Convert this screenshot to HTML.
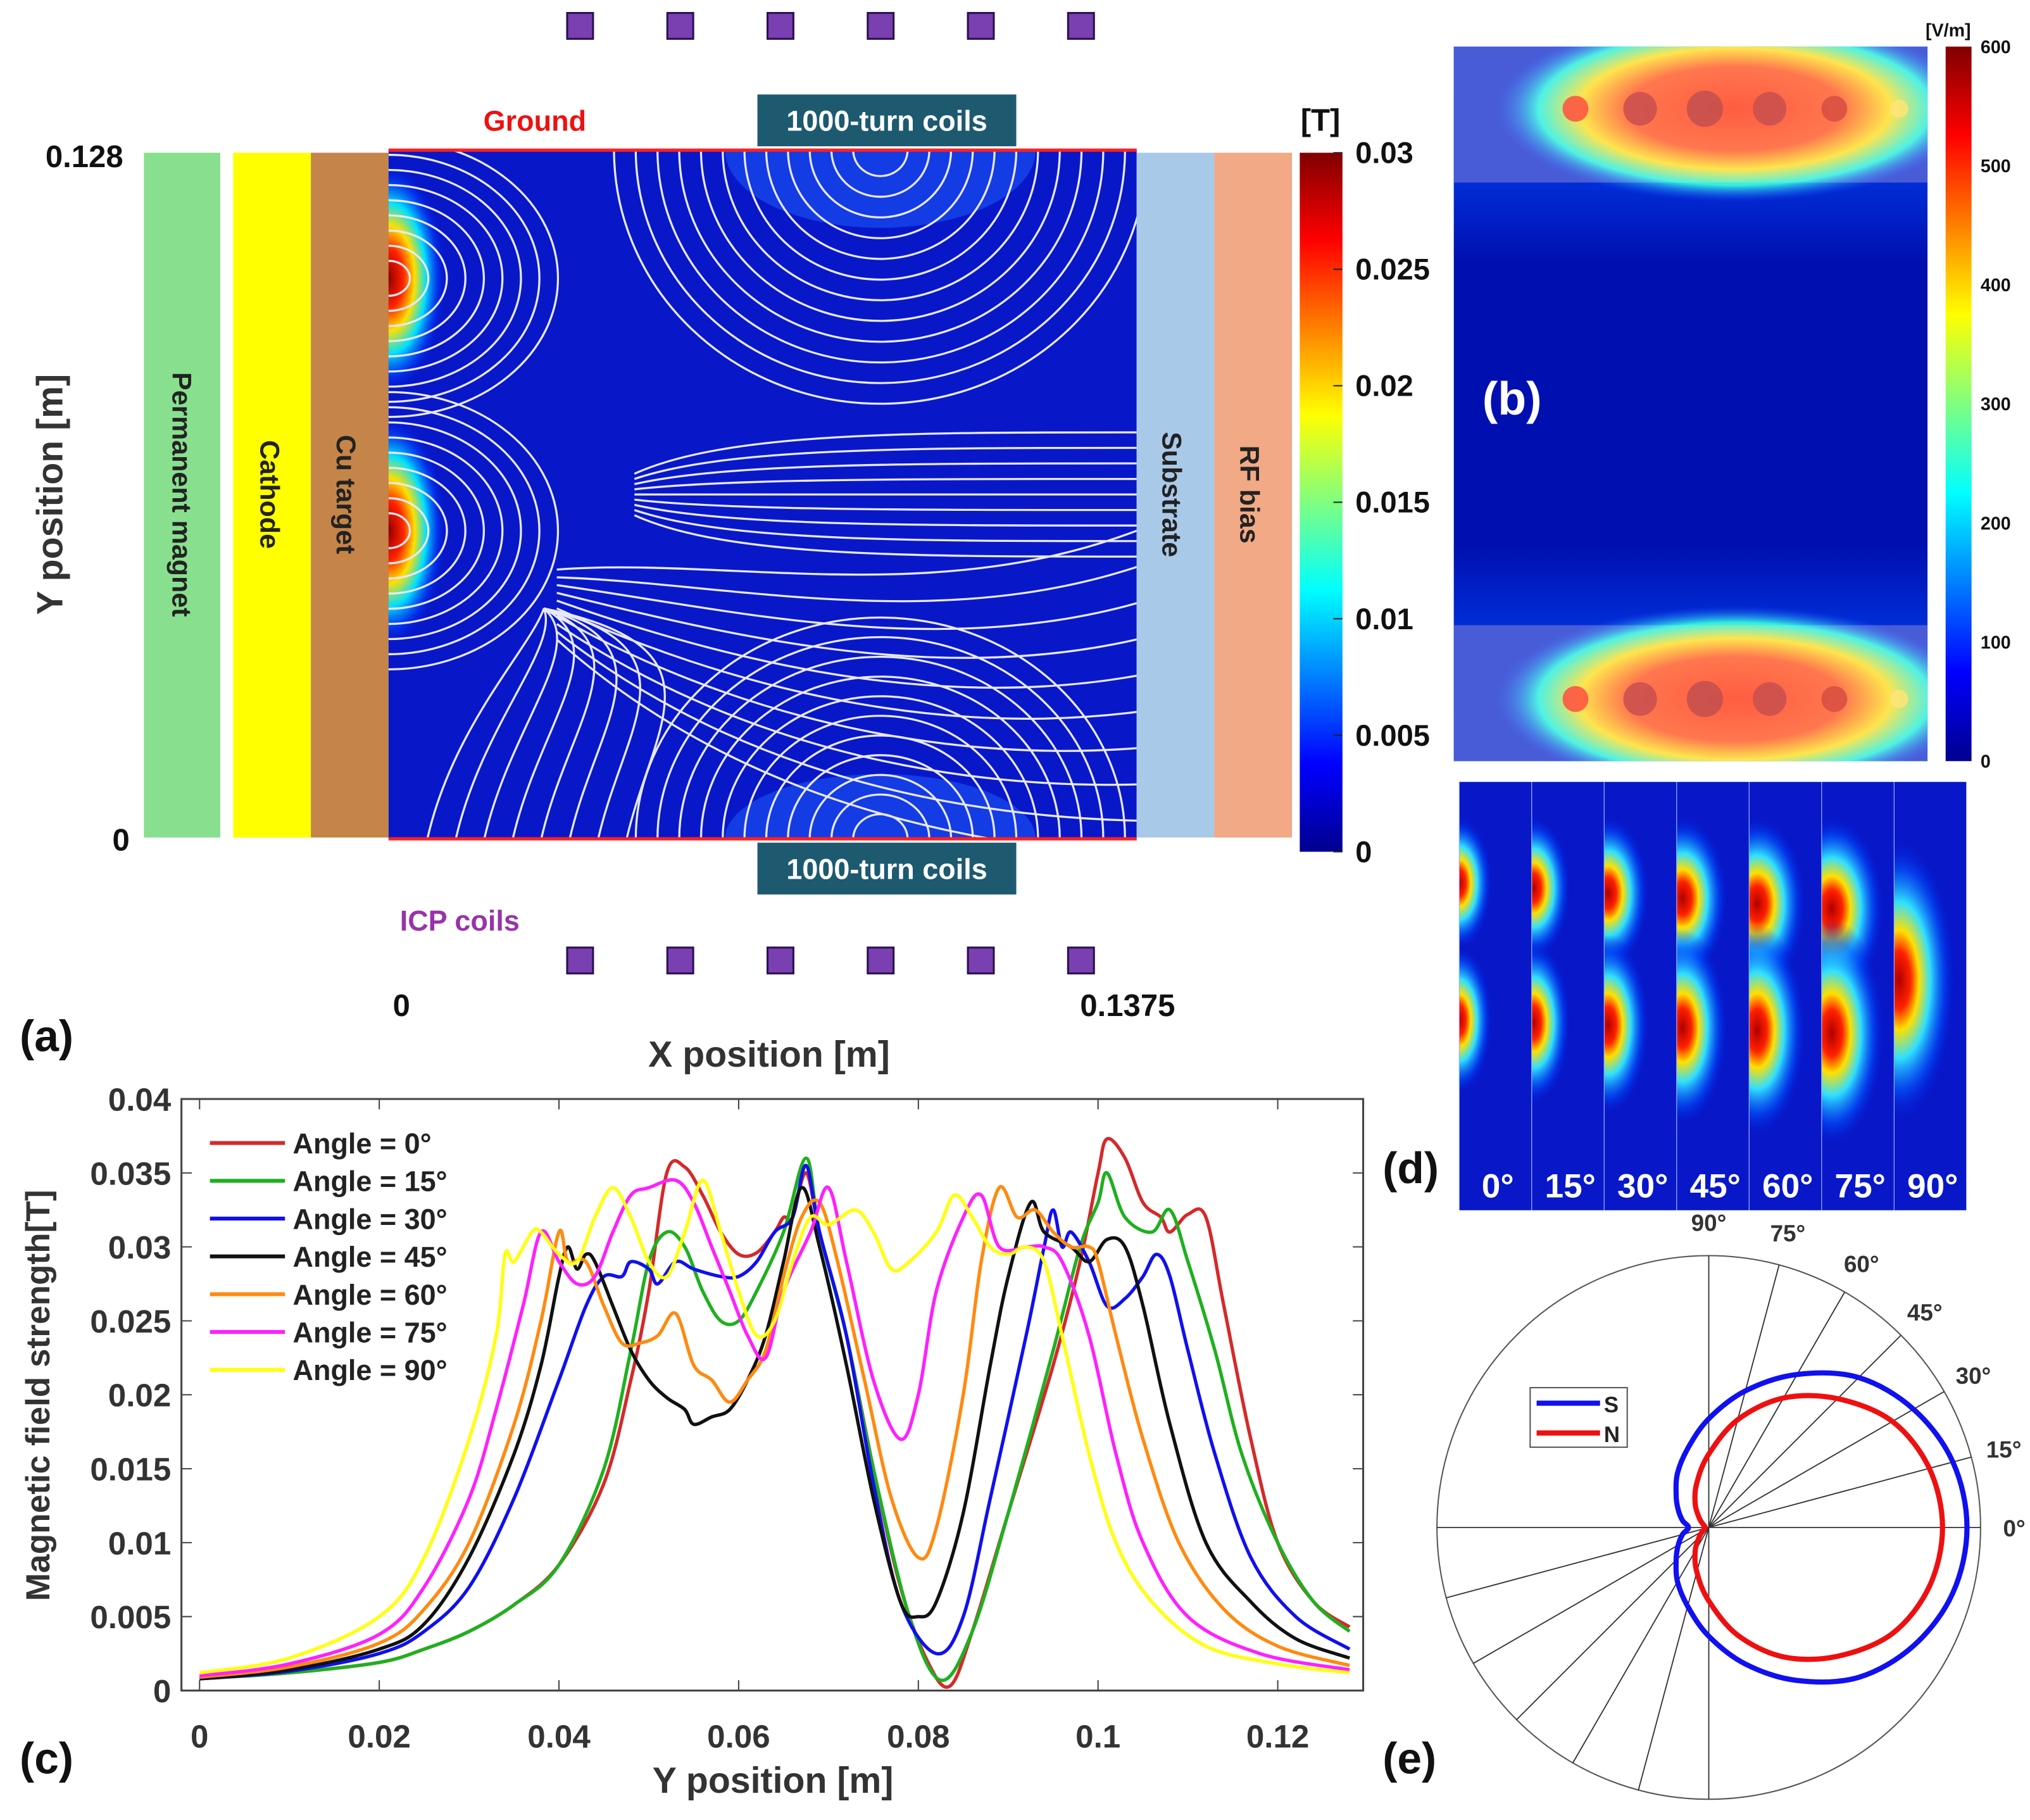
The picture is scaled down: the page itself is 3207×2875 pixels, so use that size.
<!DOCTYPE html>
<html><head><meta charset="utf-8"><style>
html,body{margin:0;padding:0;background:#fff}
svg{display:block}
text{font-family:"Liberation Sans",sans-serif;font-weight:bold}
</style></head><body>
<svg id="fig" width="3207" height="2875" viewBox="0 0 1568 1406" xmlns="http://www.w3.org/2000/svg">
<defs>
<linearGradient id="jetV" x1="0" y1="1" x2="0" y2="0">
<stop offset="0" stop-color="#00008f"/><stop offset="0.125" stop-color="#0000ff"/><stop offset="0.375" stop-color="#00ffff"/><stop offset="0.625" stop-color="#ffff00"/><stop offset="0.875" stop-color="#ff0000"/><stop offset="1" stop-color="#800000"/>
</linearGradient>
<radialGradient id="hot">
<stop offset="0" stop-color="#900000"/><stop offset="0.25" stop-color="#ff2000"/><stop offset="0.45" stop-color="#ffe000"/><stop offset="0.65" stop-color="#00e0ff"/><stop offset="0.85" stop-color="#0040ff" stop-opacity="0.6"/><stop offset="1" stop-color="#0010d0" stop-opacity="0"/>
</radialGradient>
<radialGradient id="hot2">
<stop offset="0" stop-color="#b00000"/><stop offset="0.2" stop-color="#ff2000"/><stop offset="0.35" stop-color="#ffe000"/><stop offset="0.55" stop-color="#30e0ff"/><stop offset="0.8" stop-color="#0050ff" stop-opacity="0.6"/><stop offset="1" stop-color="#0010d0" stop-opacity="0"/>
</radialGradient>
<radialGradient id="band">
<stop offset="0" stop-color="#ff4020"/><stop offset="0.45" stop-color="#ff6030"/><stop offset="0.65" stop-color="#ffe030"/><stop offset="0.82" stop-color="#30f0e0"/><stop offset="1" stop-color="#2050ff" stop-opacity="0"/>
</radialGradient>
<linearGradient id="bmid" x1="0" y1="0" x2="0" y2="1">
<stop offset="0" stop-color="#20c0ff"/><stop offset="0.12" stop-color="#0040f0"/><stop offset="0.3" stop-color="#0010b0"/><stop offset="0.7" stop-color="#0010b0"/><stop offset="0.88" stop-color="#0040f0"/><stop offset="1" stop-color="#20c0ff"/>
</linearGradient>
</defs>

<!-- Panel (a) -->
<g>
<rect x="111" y="118" width="59" height="529" fill="#88e08e"/>
<rect x="180" y="118" width="60" height="529" fill="#ffff00"/>
<rect x="240" y="118" width="60" height="529" fill="#c58548"/>
<rect x="300" y="116" width="578" height="532" fill="#0818c8"/>
<clipPath id="fc"><rect x="300" y="116" width="578" height="532"/></clipPath>
<g clip-path="url(#fc)">
<ellipse cx="680" cy="116" rx="120" ry="60" fill="#2060ff" opacity="0.5"/>
<ellipse cx="680" cy="648" rx="120" ry="50" fill="#2060ff" opacity="0.5"/>
<ellipse cx="300" cy="215" rx="45" ry="90" fill="url(#hot)"/>
<ellipse cx="300" cy="410" rx="45" ry="90" fill="url(#hot)"/>
<g id="streams" fill="none" stroke="#e8e8f8" stroke-width="1.6"></g>
</g>
<line x1="300" y1="116" x2="878" y2="116" stroke="#ff2020" stroke-width="2.5"/>
<line x1="300" y1="648" x2="878" y2="648" stroke="#ff2020" stroke-width="2.5"/>
<rect x="878" y="118" width="60" height="529" fill="#a9c9e9"/>
<rect x="938" y="118" width="60" height="529" fill="#f1a986"/>
<text transform="translate(133,382) rotate(90)" text-anchor="middle" font-size="21" fill="#222">Permanent magnet</text>
<text transform="translate(201,382) rotate(90)" text-anchor="middle" font-size="21" fill="#222">Cathode</text>
<text transform="translate(260,382) rotate(90)" text-anchor="middle" font-size="21" fill="#222">Cu target</text>
<text transform="translate(898,382) rotate(90)" text-anchor="middle" font-size="21" fill="#222">Substrate</text>
<text transform="translate(958,382) rotate(90)" text-anchor="middle" font-size="21" fill="#222">RF bias</text>
<text x="413" y="101" text-anchor="middle" font-size="22" fill="#ee1111">Ground</text>
<rect x="585" y="73" width="200" height="40" fill="#1d5a70"/>
<text x="685" y="101" text-anchor="middle" font-size="22" fill="#fff">1000-turn coils</text>
<rect x="585" y="651" width="200" height="40" fill="#1d5a70"/>
<text x="685" y="679" text-anchor="middle" font-size="22" fill="#fff">1000-turn coils</text>
<text x="355" y="719" text-anchor="middle" font-size="22" fill="#9933aa">ICP coils</text>
<g id="coils"></g>
<text x="95" y="129" text-anchor="end" font-size="24" fill="#111">0.128</text>
<text x="100" y="657" text-anchor="end" font-size="24" fill="#111">0</text>
<text x="310" y="785" text-anchor="middle" font-size="24" fill="#111">0</text>
<text x="871" y="785" text-anchor="middle" font-size="24" fill="#111">0.1375</text>
<text x="594" y="824" text-anchor="middle" font-size="28" fill="#333">X position [m]</text>
<text transform="translate(48,382) rotate(-90)" text-anchor="middle" font-size="28" fill="#333">Y position [m]</text>
<text x="15" y="812" font-size="34" fill="#111" font-weight="normal">(a)</text>
<rect x="1004" y="118" width="33" height="540" fill="url(#jetV)"/>
<text x="1020" y="101" text-anchor="middle" font-size="24" fill="#111">[T]</text>
<g id="cbA" font-size="23" fill="#111"></g>
</g>

<!-- Panel (b) -->
<g>
<rect x="1123" y="36" width="366" height="552" fill="url(#bmid)"/>
<rect x="1123" y="36" width="366" height="105" fill="#2a40d0"/>
<rect x="1123" y="483" width="366" height="105" fill="#2a40d0"/>
<clipPath id="bc"><rect x="1123" y="36" width="366" height="552"/></clipPath>
<g clip-path="url(#bc)">
<ellipse cx="1340" cy="84" rx="185" ry="72" fill="url(#band)"/>
<ellipse cx="1340" cy="540" rx="185" ry="72" fill="url(#band)"/>
<g id="spots"></g>
<rect x="1123" y="36" width="366" height="105" fill="#fff" opacity="0.15"/>
<rect x="1123" y="483" width="366" height="105" fill="#fff" opacity="0.15"/>
</g>
<text x="1168" y="320" text-anchor="middle" font-size="36" fill="#fff">(b)</text>
<rect x="1503" y="36" width="20" height="552" fill="url(#jetV)"/>
<text x="1505" y="28" text-anchor="middle" font-size="14" fill="#111">[V/m]</text>
<g id="cbB" font-size="14" fill="#111"></g>
</g>

<!-- Panel (d) -->
<g id="panelD"></g>
<text x="1068" y="914" font-size="34" fill="#111" font-weight="normal">(d)</text>

<!-- Panel (c) -->
<g id="chartC"></g>
<text x="15" y="1370" font-size="34" fill="#111" font-weight="normal">(c)</text>

<!-- Panel (e) -->
<g id="polarE"></g>
<text x="1068" y="1370" font-size="34" fill="#111" font-weight="normal">(e)</text>
</svg>
<script>
const NS="http://www.w3.org/2000/svg";
function mk(tag,attrs,parent){const e=document.createElementNS(NS,tag);for(const k in attrs)e.setAttribute(k,attrs[k]);parent.appendChild(e);return e;}
function smooth(pts,closed){
 const n=pts.length;let d='M'+pts[0][0].toFixed(1)+','+pts[0][1].toFixed(1);
 const g=i=>closed?pts[(i+n)%n]:pts[Math.max(0,Math.min(n-1,i))];
 const last=closed?n:n-1;
 for(let i=0;i<last;i++){const p0=g(i-1),p1=g(i),p2=g(i+1),p3=g(i+2);
  const c1=[p1[0]+(p2[0]-p0[0])/6,p1[1]+(p2[1]-p0[1])/6],c2=[p2[0]-(p3[0]-p1[0])/6,p2[1]-(p3[1]-p1[1])/6];
  d+=`C${c1[0].toFixed(1)},${c1[1].toFixed(1)} ${c2[0].toFixed(1)},${c2[1].toFixed(1)} ${p2[0].toFixed(1)},${p2[1].toFixed(1)}`;}
 return d+(closed?'Z':'');}

// ---------- chart (c) data ----------
const angleLabels=["Angle =   0°","Angle = 15°","Angle = 30°","Angle = 45°","Angle = 60°","Angle = 75°","Angle = 90°"];
const seriesColors=["#d42a2a","#1fb01f","#1010ee","#111111","#ff8a10","#ff20ff","#ffff10"];
const xTicks=[0,0.02,0.04,0.06,0.08,0.1,0.12];
const xTickLabels=["0","0.02","0.04","0.06","0.08","0.1","0.12"];
const yTicks=[0,0.005,0.01,0.015,0.02,0.025,0.03,0.035,0.04];
const yTickLabels=["0","0.005","0.01","0.015","0.02","0.025","0.03","0.035","0.04"];
const x0=[0,0.01,0.02,0.025,0.03,0.035,0.04,0.045,0.048,0.05,0.052,0.054,0.056,0.058,0.06,0.062,0.064,0.065,0.066,0.0675,0.069,0.072,0.075,0.078,0.081,0.0835,0.086,0.09,0.095,0.098,0.1,0.101,0.103,0.105,0.107,0.108,0.11,0.112,0.114,0.117,0.12,0.124,0.128];
const y0=[0.0008,0.0012,0.0019,0.0028,0.004,0.0058,0.0085,0.014,0.021,0.027,0.035,0.0354,0.0335,0.031,0.0295,0.0296,0.031,0.032,0.032,0.035,0.031,0.024,0.015,0.007,0.002,0.0003,0.004,0.012,0.022,0.029,0.035,0.0373,0.036,0.033,0.032,0.031,0.0322,0.032,0.026,0.017,0.010,0.006,0.0043];
const x15=[0,0.01,0.02,0.025,0.03,0.035,0.04,0.045,0.048,0.05,0.052,0.054,0.056,0.058,0.06,0.062,0.065,0.0675,0.069,0.072,0.075,0.079,0.0825,0.086,0.09,0.095,0.098,0.1,0.101,0.103,0.106,0.108,0.11,0.113,0.116,0.12,0.124,0.128];
const y15=[0.0008,0.0012,0.0019,0.0028,0.004,0.0058,0.0085,0.015,0.023,0.029,0.031,0.030,0.027,0.025,0.025,0.027,0.031,0.036,0.031,0.024,0.015,0.005,0.0007,0.004,0.012,0.023,0.030,0.033,0.035,0.032,0.031,0.0325,0.029,0.023,0.016,0.010,0.006,0.004];
const x30=[0,0.01,0.02,0.025,0.03,0.035,0.04,0.043,0.045,0.047,0.048,0.05,0.051,0.053,0.055,0.058,0.06,0.062,0.064,0.066,0.0675,0.069,0.072,0.075,0.078,0.082,0.085,0.088,0.092,0.094,0.095,0.096,0.097,0.099,0.101,0.103,0.105,0.1065,0.108,0.11,0.113,0.117,0.122,0.128];
const y30=[0.0008,0.0013,0.0025,0.004,0.007,0.013,0.021,0.026,0.028,0.028,0.029,0.0285,0.0275,0.029,0.0285,0.028,0.028,0.029,0.031,0.032,0.0355,0.031,0.024,0.014,0.006,0.0025,0.005,0.013,0.024,0.030,0.0325,0.030,0.031,0.029,0.026,0.0265,0.028,0.0295,0.028,0.023,0.016,0.009,0.005,0.0028];
const x45=[0,0.01,0.02,0.025,0.03,0.035,0.038,0.04,0.041,0.042,0.043,0.044,0.046,0.048,0.05,0.052,0.054,0.055,0.057,0.059,0.061,0.063,0.065,0.067,0.069,0.072,0.075,0.078,0.08,0.082,0.085,0.088,0.09,0.0925,0.094,0.097,0.099,0.101,0.103,0.105,0.108,0.112,0.117,0.122,0.128];
const y45=[0.0008,0.0014,0.0028,0.0045,0.009,0.016,0.022,0.028,0.030,0.0285,0.0295,0.029,0.026,0.023,0.021,0.0198,0.019,0.018,0.0185,0.019,0.021,0.024,0.029,0.034,0.030,0.022,0.013,0.006,0.005,0.006,0.012,0.022,0.028,0.033,0.031,0.030,0.029,0.0305,0.030,0.026,0.018,0.010,0.006,0.0035,0.0022];
const x60=[0,0.01,0.02,0.025,0.03,0.035,0.038,0.04,0.041,0.043,0.045,0.047,0.049,0.051,0.053,0.055,0.057,0.059,0.061,0.063,0.065,0.067,0.069,0.071,0.074,0.077,0.08,0.082,0.085,0.087,0.089,0.091,0.093,0.095,0.097,0.099,0.1,0.102,0.105,0.109,0.114,0.12,0.128];
const y60=[0.0009,0.0016,0.0032,0.0055,0.010,0.018,0.025,0.031,0.029,0.029,0.026,0.0235,0.0235,0.024,0.0255,0.022,0.021,0.0195,0.021,0.023,0.028,0.032,0.033,0.029,0.021,0.013,0.009,0.011,0.020,0.029,0.034,0.032,0.0325,0.031,0.030,0.030,0.029,0.024,0.017,0.010,0.0055,0.003,0.0017];
const x75=[0,0.01,0.02,0.025,0.03,0.033,0.036,0.038,0.04,0.042,0.044,0.046,0.048,0.05,0.053,0.055,0.057,0.059,0.061,0.063,0.065,0.068,0.07,0.072,0.075,0.078,0.08,0.082,0.085,0.087,0.089,0.092,0.094,0.096,0.099,0.102,0.105,0.11,0.118,0.128];
const y75=[0.001,0.0018,0.0038,0.007,0.013,0.019,0.026,0.031,0.029,0.0275,0.028,0.031,0.0335,0.034,0.0345,0.033,0.030,0.027,0.024,0.0225,0.027,0.031,0.034,0.029,0.021,0.017,0.020,0.027,0.032,0.0335,0.030,0.030,0.030,0.029,0.024,0.016,0.010,0.005,0.0025,0.0014];
const x90=[0,0.01,0.02,0.025,0.03,0.033,0.034,0.035,0.037,0.038,0.04,0.042,0.044,0.046,0.048,0.05,0.052,0.054,0.056,0.058,0.06,0.062,0.064,0.066,0.068,0.07,0.073,0.075,0.077,0.079,0.082,0.084,0.086,0.088,0.09,0.092,0.094,0.096,0.099,0.102,0.106,0.112,0.12,0.128];
const y90=[0.0012,0.0022,0.005,0.009,0.017,0.024,0.0295,0.029,0.031,0.031,0.0295,0.029,0.032,0.034,0.032,0.029,0.028,0.031,0.0345,0.031,0.027,0.024,0.025,0.029,0.032,0.0315,0.0325,0.031,0.0285,0.029,0.031,0.0335,0.032,0.030,0.0295,0.030,0.029,0.024,0.016,0.010,0.006,0.003,0.0018,0.0012];
const seriesX=[x0,x15,x30,x45,x60,x75,x90];
const seriesY=[y0,y15,y30,y45,y60,y75,y90];

// ---------- polar (e) data ----------
const polarAngles=[0,15,30,45,60,75,90,105,120,135,150,165,180,195,210,225,240,255,270,285,300,315,330,345];
const radiusS=[0.95,0.93,0.87,0.78,0.65,0.52,0.40,0.30,0.23,0.17,0.13,0.10,0.075,0.10,0.13,0.17,0.23,0.30,0.40,0.52,0.65,0.78,0.87,0.93];
const radiusN=[0.86,0.84,0.78,0.67,0.55,0.41,0.27,0.17,0.10,0.05,0.025,0.015,0.015,0.015,0.025,0.05,0.10,0.17,0.27,0.41,0.55,0.67,0.78,0.84];
const spokeAngles=[0,15,30,45,60,75,90];
const spokeLabels=["0°","15°","30°","45°","60°","75°","90°"];

// ---------- colorbars / misc data ----------
const cbATicks=[0,0.005,0.01,0.015,0.02,0.025,0.03];
const cbALabels=["0","0.005","0.01","0.015","0.02","0.025","0.03"];
const cbBTicks=[0,100,200,300,400,500,600];
const stripLabels=["0°","15°","30°","45°","60°","75°","90°"];

const coils=document.getElementById('coils');
for(let i=0;i<6;i++){const cx=448+i*77.4;
 for(const cy of [20,742]){const r=mk('rect',{x:cx-10,y:cy-10,width:20,height:20,fill:'#7a3fb0',stroke:'#2a1050','stroke-width':1.5},coils);
 
 }}
const cbA=document.getElementById('cbA');
cbATicks.forEach((t,i)=>{const y=658-t/0.03*540;
 mk('line',{x1:1030,x2:1037,y1:y,y2:y,stroke:'#222'},cbA);
 const tx=mk('text',{x:1047,y:y+8},cbA);tx.textContent=cbALabels[i];});
const cbB=document.getElementById('cbB');
cbBTicks.forEach(t=>{const y=588-t/600*552;
 const tx=mk('text',{x:1530,y:y+5},cbB);tx.textContent=String(t);});
const st=document.getElementById('streams');
for(let r=20;r<=200;r+=16){mk('path',{d:`M${680-r*1.05},116 A${r*1.05},${r} 0 0 0 ${680+r*1.05},116`},st);}
for(let r=20;r<=180;r+=16){mk('path',{d:`M${680-r*1.05},648 A${r*1.05},${r*0.95} 0 0 1 ${680+r*1.05},648`},st);}
for(let r=15;r<=120;r+=13){mk('path',{d:`M300,${215-r*0.9} A${r*1.1},${r*0.9} 0 0 1 300,${215+r*0.9}`},st);
 mk('path',{d:`M300,${410-r*0.9} A${r*1.1},${r*0.9} 0 0 1 300,${410+r*0.9}`},st);}
for(let k=-4;k<=4;k++){const y=382+k*12;mk('path',{d:`M490,${382+k*4} C560,${y} 700,${y} 878,${y}`},st);}
for(let k=0;k<10;k++){const y=430+k*20;mk('path',{d:`M430,${440+k*6} C560,${y} 720,${y+40} 878,${y-20+k*8}`},st);}
for(let k=0;k<8;k++){const x=330+k*22;mk('path',{d:`M${x},648 C${x+20},560 ${x+80},500 420,470`},st);}
const spots=document.getElementById('spots');
[[1217,84,10,'#ff3020'],[1267,84,13,'#c03030'],[1317,84,14,'#b83030'],[1367,84,13,'#c03030'],[1417,84,10,'#d03020'],[1467,84,7,'#ffe060']].forEach(s=>{
 mk('circle',{cx:s[0],cy:s[1],r:s[2],fill:s[3],opacity:0.85},spots);
 mk('circle',{cx:s[0],cy:540,r:s[2],fill:s[3],opacity:0.85},spots);});
const pd=document.getElementById('panelD');
const defs=document.querySelector('defs');
for(let i=0;i<7;i++){const x=1127+i*56;
 const cp=mk('clipPath',{id:'sc'+i},defs);mk('rect',{x:x,y:604,width:56,height:331},cp);
 const g=mk('g',{'clip-path':'url(#sc'+i+')'},pd);
 
 
 mk('rect',{x:x,y:604,width:56,height:331,fill:'#0818c8'},g);
 const ex=x+i*1.6;
 if(i<6){
  mk('ellipse',{cx:ex,cy:682+i*4,rx:26+i*3,ry:52+i*4,fill:'url(#hot2)'},g);
  mk('ellipse',{cx:ex,cy:788+i*2,rx:26+i*3,ry:58+i*6,fill:'url(#hot2)'},g);
 } else {
  mk('ellipse',{cx:x+4,cy:757,rx:44,ry:110,fill:'url(#hot2)'},g);
 }
 mk('line',{x1:x,x2:x,y1:604,y2:935,stroke:'#9ab0ff','stroke-width':1},g);
 const t=mk('text',{x:x+30,y:925,'text-anchor':'middle','font-size':26,fill:'#fff','font-family':'Liberation Serif, serif'},g);t.textContent=stripLabels[i];}

const C=document.getElementById('chartC');
const L=140,R=1053,T=849,B=1306;
const sx=v=>154+v*(987-154)/0.12;
const sy=v=>B-v*(B-T)/0.04;
mk('rect',{x:L,y:T,width:R-L,height:B-T,fill:'#fff',stroke:'#444','stroke-width':1.5},C);
xTicks.forEach((t,i)=>{const x=sx(t);
 mk('line',{x1:x,x2:x,y1:B,y2:B-8,stroke:'#444'},C);mk('line',{x1:x,x2:x,y1:T,y2:T+8,stroke:'#444'},C);
 const tx=mk('text',{x:x,y:1350,'text-anchor':'middle','font-size':25,fill:'#333'},C);tx.textContent=xTickLabels[i];});
yTicks.forEach((t,i)=>{const y=sy(t);
 mk('line',{x1:L,x2:L+8,y1:y,y2:y,stroke:'#444'},C);mk('line',{x1:R,x2:R-8,y1:y,y2:y,stroke:'#444'},C);
 const tx=mk('text',{x:L-8,y:y+9,'text-anchor':'end','font-size':25,fill:'#333'},C);tx.textContent=yTickLabels[i];});
seriesX.forEach((xs,s)=>{const pts=xs.map((v,i)=>[sx(v),sy(seriesY[s][i])]);
 const p=mk('path',{d:smooth(pts,false),fill:'none',stroke:seriesColors[s],'stroke-width':2.6,'stroke-linejoin':'round'},C);
 
 });
angleLabels.forEach((lab,i)=>{const y=883+i*29.2;
 const g=mk('g',{},C);
 
 
 mk('line',{x1:162,x2:220,y1:y,y2:y,stroke:seriesColors[i],'stroke-width':3},g);
 const t=mk('text',{x:226,y:y+8,'font-size':22,fill:'#222'},g);t.textContent=lab;});
{const t=mk('text',{x:597,y:1385,'text-anchor':'middle','font-size':28,fill:'#333'},C);t.textContent='Y position [m]';}
{const t=mk('text',{transform:'translate(38,1078) rotate(-90)','text-anchor':'middle','font-size':26,fill:'#333'},C);t.textContent='Magnetic field strength[T]';}

const P=document.getElementById('polarE');
const pcx=1320,pcy=1180,PR=210;
mk('circle',{cx:pcx,cy:pcy,r:PR,fill:'#fff',stroke:'#555','stroke-width':1},P);
spokeAngles.forEach((a,i)=>{const r=a*Math.PI/180;const dx=Math.cos(r)*PR,dy=Math.sin(r)*PR;
 mk('line',{x1:pcx-dx,y1:pcy+dy,x2:pcx+dx,y2:pcy-dy,stroke:'#333','stroke-width':0.9},P);
 const lr=PR+26;const t=mk('text',{x:pcx+Math.cos(r)*lr,y:pcy-Math.sin(r)*lr+7,'text-anchor':'middle','font-size':18,fill:'#333'},P);t.textContent=spokeLabels[i];});
[[radiusS,'#1010f0'],[radiusN,'#ee1010']].forEach(([rs,c],k)=>{
 const pts=polarAngles.map((a,i)=>{const r=a*Math.PI/180;const rr=rs[i]*PR;return [pcx+Math.cos(r)*rr,pcy-Math.sin(r)*rr];});
 const p=mk('path',{d:smooth(pts,true),fill:'none',stroke:c,'stroke-width':4,'stroke-linejoin':'round'},P);
 
 });
mk('rect',{x:1182,y:1072,width:75,height:46,fill:'#fff',stroke:'#555'},P);
mk('line',{x1:1187,x2:1236,y1:1084,y2:1084,stroke:'#1010f0','stroke-width':4},P);
mk('line',{x1:1187,x2:1236,y1:1107,y2:1107,stroke:'#ee1010','stroke-width':4},P);
{const t=mk('text',{x:1239,y:1091,'font-size':17,fill:'#222'},P);t.textContent='S';}
{const t=mk('text',{x:1239,y:1114,'font-size':17,fill:'#222'},P);t.textContent='N';}
</script>
</body></html>
